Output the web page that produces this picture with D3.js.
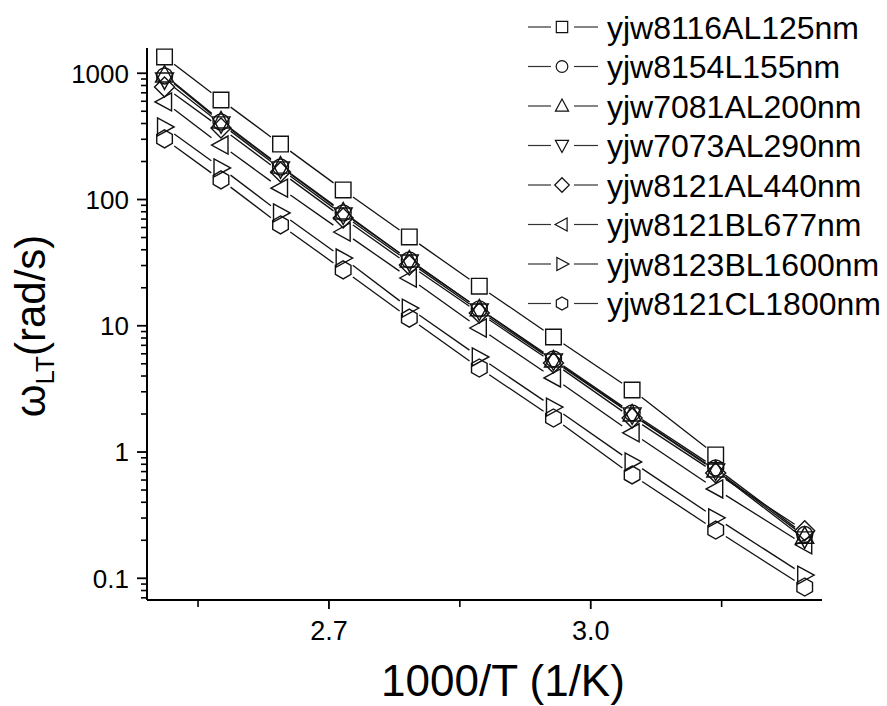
<!DOCTYPE html>
<html>
<head>
<meta charset="utf-8">
<script src="https://cdn.jsdelivr.net/npm/d3@7"></script>
<style>
  body { margin: 0; background: #fff; }
  text { font-family: "Liberation Sans", Arial, Helvetica, sans-serif; fill: #000; }
</style>
</head>
<body>
<div id="chart"></div>
<script>
// 1000/T for T = 125 ... 35 C
const invT = [2.5116, 2.5763, 2.6445, 2.7163, 2.7921, 2.8723, 2.9573, 3.0474, 3.1432, 3.2452];

const names = ["yjw8116AL125nm", "yjw8154L155nm", "yjw7081AL200nm", "yjw7073AL290nm",
  "yjw8121AL440nm", "yjw8121BL677nm", "yjw8123BL1600nm", "yjw8121CL1800nm"];
const shapes = ["square", "circle", "up", "down", "diamond", "left", "right", "hexagon"];

const w8116AL125 = [1346, 614, 275, 119, 50.5, 20.6, 8.15, 3.10, 0.948];
const w8154L155 = [952, 411, 181, 78.3, 33.2, 13.6, 5.46, 2.04, 0.748, 0.222];
const w7081AL200 = [969, 419, 184, 79.7, 33.2, 13.6, 5.36, 2.00, 0.721, 0.215];
const w7073AL290 = [885, 397, 175, 75.4, 32.0, 13.1, 5.26, 1.97, 0.708, 0.205];
const w8121AL440 = [779, 369, 165, 71.4, 30.3, 12.6, 5.07, 1.86, 0.683, 0.238];
const w8121BL677 = [593, 270, 123, 55.3, 23.9, 9.6, 3.86, 1.42, 0.51, 0.184];
const w8123BL1600 = [376, 178, 78.3, 34.4, 13.8, 5.66, 2.27, 0.834, 0.301, 0.106];
const w8121CL1800 = [302, 143, 62.9, 27.7, 11.5, 4.63, 1.86, 0.658, 0.241, 0.0853];

const seriesValues = [w8116AL125, w8154L155, w7081AL200, w7073AL290,
  w8121AL440, w8121BL677, w8123BL1600, w8121CL1800];

const yMajor = [0.1, 1, 10, 100, 1000];
const yLabels = ["0.1", "1", "10", "100", "1000"];
const xMajor = [2.7, 3.0];
const xLabels = ["2.7", "3.0"];
const xMinor = [2.55, 2.85, 3.15];

var margin = { top: 48, right: 65, bottom: 106, left: 147 },
    width = 887 - margin.left - margin.right,
    height = 706 - margin.top - margin.bottom;

const svg = d3.select("#chart").append("svg")
    .attr("width", 887).attr("height", 706);
const g = svg.append("g")
    .attr("transform", "translate(" + margin.left + "," + margin.top + ")");

const x = d3.scaleLinear().domain([2.4915, 3.265]).range([0, width]);
const y = d3.scaleLog().domain([0.0673, 1585]).range([height, 0]);

// marker paths, r = half size
function marker(type, r) {
  const k = r / 8.5;
  const poly = pts => "M" + pts.map(p => (p[0] * k) + "," + (p[1] * k)).join("L") + "Z";
  switch (type) {
    case "square": return poly([[-7.8, -7.8], [7.8, -7.8], [7.8, 7.8], [-7.8, 7.8]]);
    case "circle": return d3.symbol(d3.symbolCircle, Math.PI * Math.pow(8 * k, 2))();
    case "up": return poly([[0, -9.5], [9, 7], [-9, 7]]);
    case "down": return poly([[0, 9.5], [9, -7], [-9, -7]]);
    case "left": return poly([[-9.5, 0], [7, -9], [7, 9]]);
    case "right": return poly([[9.5, 0], [-7, -9], [-7, 9]]);
    case "diamond": return poly([[0, -10], [10, 0], [0, 10], [-10, 0]]);
    case "hexagon": return poly(d3.range(6).map(i => {
      const a = (-90 + 60 * i) * Math.PI / 180;
      return [9 * Math.cos(a), 9 * Math.sin(a)];
    }));
  }
}

// axes
const yAxis = g.append("g");
yAxis.append("line").attr("x1", 0).attr("x2", 0).attr("y1", 0).attr("y2", height)
    .attr("stroke", "#000").attr("stroke-width", 2);
const yMinor = y.ticks().filter(t => yMajor.indexOf(t) < 0 && y(t) >= 0 && y(t) <= height);
yAxis.selectAll(".ymin").data(yMinor).enter().append("line")
    .attr("x1", -6).attr("x2", 0).attr("y1", d => y(d)).attr("y2", d => y(d))
    .attr("stroke", "#000").attr("stroke-width", 1.6);
yAxis.selectAll(".ymaj").data(yMajor).enter().append("line")
    .attr("x1", -10).attr("x2", 0).attr("y1", d => y(d)).attr("y2", d => y(d))
    .attr("stroke", "#000").attr("stroke-width", 1.8);
yAxis.selectAll(".ylab").data(yMajor).enter().append("text")
    .attr("x", -18).attr("y", d => y(d)).attr("dy", "0.36em")
    .attr("text-anchor", "end").style("font-size", "26px")
    .text((d, i) => yLabels[i]);

const xAxis = g.append("g").attr("transform", "translate(0," + height + ")");
xAxis.append("line").attr("x1", 0).attr("x2", width)
    .attr("stroke", "#000").attr("stroke-width", 2);
xAxis.selectAll(".xmin").data(xMinor).enter().append("line")
    .attr("x1", d => x(d)).attr("x2", d => x(d)).attr("y1", 0).attr("y2", 7)
    .attr("stroke", "#000").attr("stroke-width", 1.6);
xAxis.selectAll(".xmaj").data(xMajor).enter().append("line")
    .attr("x1", d => x(d)).attr("x2", d => x(d)).attr("y1", 0).attr("y2", 9)
    .attr("stroke", "#000").attr("stroke-width", 1.8);
xAxis.selectAll(".xlab").data(xMajor).enter().append("text")
    .attr("x", d => x(d)).attr("y", 40)
    .attr("text-anchor", "middle").style("font-size", "27px")
    .text((d, i) => xLabels[i]);

// axis titles
svg.append("text").attr("x", 503).attr("y", 696)
    .attr("text-anchor", "middle").style("font-size", "44px")
    .text("1000/T (1/K)");

const yt = svg.append("text")
    .attr("transform", "translate(45,326) rotate(-90)")
    .attr("text-anchor", "middle").style("font-size", "42px");
yt.append("tspan").text("ω");
yt.append("tspan").attr("dy", 9).style("font-size", "26px").text("LT");
yt.append("tspan").attr("dy", -9).text("(rad/s)");

// data: lines with gaps at the symbols, then open markers
const gap = 12;
seriesValues.forEach((vals, si) => {
  const pts = vals.map((v, i) => [x(invT[i]), y(v)]);
  const segs = d3.pairs(pts).map(([a, b]) => {
    const dx = b[0] - a[0], dy = b[1] - a[1], len = Math.hypot(dx, dy);
    const ux = dx / len, uy = dy / len;
    return [a[0] + ux * gap, a[1] + uy * gap, b[0] - ux * gap, b[1] - uy * gap];
  });
  g.append("g").selectAll("line").data(segs).enter().append("line")
      .attr("x1", d => d[0]).attr("y1", d => d[1])
      .attr("x2", d => d[2]).attr("y2", d => d[3])
      .attr("stroke", "#111").attr("stroke-width", 1.3);
  g.append("g").selectAll("path").data(pts).enter().append("path")
      .attr("transform", d => "translate(" + d[0] + "," + d[1] + ")")
      .attr("d", marker(shapes[si], 8.5))
      .attr("fill", "none").attr("stroke", "#111").attr("stroke-width", 1.4);
});

// legend
const legend = svg.append("g");
names.forEach((n, i) => {
  const ly = 27 + i * 39.5;
  legend.append("line").attr("x1", 528).attr("x2", 551).attr("y1", ly).attr("y2", ly)
      .attr("stroke", "#333").attr("stroke-width", 1.2);
  legend.append("line").attr("x1", 574).attr("x2", 598).attr("y1", ly).attr("y2", ly)
      .attr("stroke", "#333").attr("stroke-width", 1.2);
  legend.append("path").attr("transform", "translate(562," + ly + ")")
      .attr("d", marker(shapes[i], 6.2))
      .attr("fill", "none").attr("stroke", "#111").attr("stroke-width", 1.2);
  legend.append("text").attr("x", 607).attr("y", ly).attr("dy", "0.36em")
      .style("font-size", "32px").text(n);
});
</script>
</body>
</html>
